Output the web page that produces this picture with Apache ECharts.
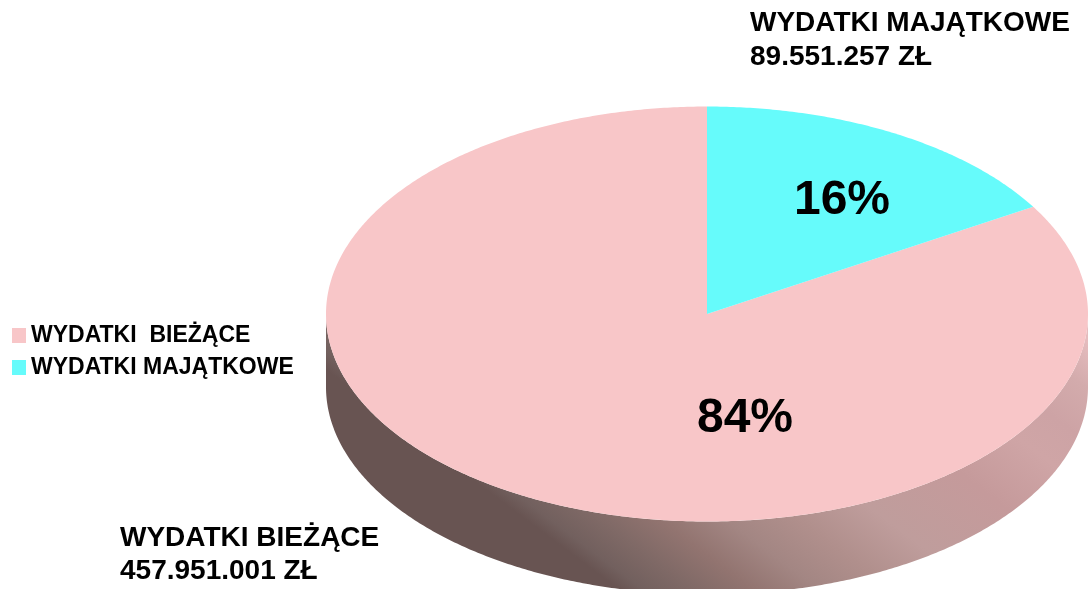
<!DOCTYPE html>
<html><head><meta charset="utf-8">
<style>html,body{margin:0;padding:0;background:#fff}#c{width:1088px;height:589px}</style>
<script src="https://cdn.jsdelivr.net/npm/echarts@6/dist/echarts.min.js"></script>
</head><body><div id="c"></div>
<script>
const categories = ['WYDATKI  BIEŻĄCE', 'WYDATKI MAJĄTKOWE'];
const amounts = [457951001, 89551257];
const percentLabels = ['84%', '16%'];
const calloutLabels = ['WYDATKI BIEŻĄCE\n457.951.001 ZŁ', 'WYDATKI MAJĄTKOWE\n89.551.257 ZŁ'];
const colors = ['#F8C6C8', '#66FBFB'];

const FONT = '"Liberation Sans", Arial, sans-serif';
const cx = 707, cy = 314, rx = 381, ry = 207.5, depth = 73;
const total = amounts.reduce((a, b) => a + b, 0);
// Slices run clockwise from 12 o'clock; the smaller one first, as in the picture.
const drawOrder = [1, 0];
const startOf = {};
let acc = 0;
drawOrder.forEach(i => { startOf[i] = acc; acc += amounts[i] / total * 360; });

const pt = (deg, dy) => {
  const r = deg * Math.PI / 180;
  return [cx + rx * Math.sin(r), cy - ry * Math.cos(r) + (dy || 0)];
};
const arc = (a, b, dy) => {
  const out = [];
  const n = Math.max(2, Math.ceil(Math.abs(b - a) * 2));
  for (let k = 0; k <= n; k++) out.push(pt(a + (b - a) * k / n, dy));
  return out;
};
const wallFill = new echarts.graphic.LinearGradient(600, 575, 888, 191, [
  { offset: 0, color: '#685452' },
  { offset: 0.03, color: '#72605E' },
  { offset: 0.09, color: '#7F6966' },
  { offset: 0.167, color: '#927470' },
  { offset: 0.25, color: '#A38683' },
  { offset: 0.34, color: '#B08F8C' },
  { offset: 0.45, color: '#BF9D9C' },
  { offset: 0.62, color: '#C59A9B' },
  { offset: 0.75, color: '#CFA5A6' },
  { offset: 0.83, color: '#CDA3A5' },
  { offset: 0.92, color: '#D3ABAC' },
  { offset: 1, color: '#E5BCBE' }
], true);

function makeRender(idx) {
  return function (params, api) {
    const start = startOf[idx];
    const end = start + api.value(0) / total * 360;
    const children = [];
    const wa = Math.max(start, 90), wb = Math.min(end, 270);
    if (wb > wa) {
      const top = arc(wa, wb, 0), bottom = arc(wb, wa, depth);
      children.push({ type: 'polygon', shape: { points: top.concat(bottom) },
        style: { fill: wallFill, stroke: null } });
    }
    children.push({ type: 'polygon',
      shape: { points: [[cx, cy]].concat(arc(start, end, 0)) },
      style: { fill: api.visual('color'), stroke: null } });
    return { type: 'group', children };
  };
}

const series = categories.map((name, i) => ({
  type: 'custom', name, coordinateSystem: 'none', silent: true,
  z: i === 0 ? 2 : 3,
  itemStyle: { color: colors[i] },
  data: [[amounts[i]]],
  renderItem: makeRender(i)
}));

const bigText = (text, x, y) => ({ type: 'text', x, y, z: 20, silent: true,
  style: { text, fill: '#000', font: 'bold 48px ' + FONT, textAlign: 'center', textVerticalAlign: 'middle' } });
const callout = (text, x, y, lh) => ({ type: 'text', x, y, z: 20, silent: true,
  style: { text, fill: '#000', font: 'bold 28px ' + FONT, lineHeight: lh } });

const chart = echarts.init(document.getElementById('c'), null, { renderer: 'canvas' });
chart.setOption({
  animation: false,
  backgroundColor: '#fff',
  legend: {
    left: 12, top: 324, orient: 'vertical', icon: 'rect', padding: 0,
    itemWidth: 14, itemHeight: 15, itemGap: 9, selectedMode: false,
    data: categories,
    textStyle: { color: '#000', fontFamily: FONT, fontWeight: 'bold', fontSize: 23 }
  },
  series,
  graphic: [
    bigText(percentLabels[0], 745, 419),
    bigText(percentLabels[1], 842, 201),
    callout(calloutLabels[1], 750, 6, 34),
    callout(calloutLabels[0], 120, 522, 33)
  ]
});
</script></body></html>
